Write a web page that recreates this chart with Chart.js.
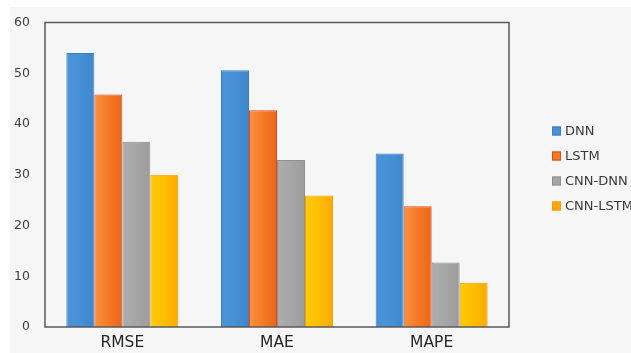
<!DOCTYPE html>
<html>
<head>
<meta charset="utf-8">
<script src="https://cdn.jsdelivr.net/npm/chart.js@4/dist/chart.umd.min.js"></script>
<style>
  html, body { margin: 0; padding: 0; background: #ffffff; overflow: hidden; }
  #wrap { width: 631px; height: 353px; }
</style>
</head>
<body>
<div id="wrap"><canvas id="c" width="631" height="353"></canvas></div>
<script>
// Error metrics per model
const categories = ['RMSE', 'MAE', 'MAPE'];
const seriesNames = ['DNN', 'LSTM', 'CNN-DNN', 'CNN-LSTM'];
const dnnValues = [54.0, 50.6, 34.2];
const lstmValues = [45.8, 42.7, 23.8];
const cnnDnnValues = [36.5, 32.9, 12.7];
const cnnLstmValues = [30.0, 25.9, 8.7];
const yTicks = [0, 10, 20, 30, 40, 50, 60];

// left -> right shading for each series, plus legend swatch and edge colours
const shades = [
  ['#4b93da', '#4590d6', '#3f87cc'],
  ['#fb913e', '#f47a26', '#e9661b'],
  ['#adadad', '#a6a6a6', '#9b9b9b'],
  ['#ffc905', '#ffbe02', '#ffa800']
];
const swatch = ['#4a8fd6', '#f47a24', '#a5a5a5', '#fca40c'];
const edges = ['#3d7fc4', '#e0481c', '#8f8f8f', '#f2a000'];

const FONT = "'DejaVu Sans', 'Open Sans', sans-serif";

const valueSets = [dnnValues, lstmValues, cnnDnnValues, cnnLstmValues];
const datasets = seriesNames.map((name, i) => ({
  label: name,
  data: valueSets[i],
  backgroundColor: swatch[i],
  borderColor: edges[i],
  borderWidth: 1,
  categoryPercentage: 0.724,
  barPercentage: 1.0
}));

// Panel background, shaded bars, frame and legend
const decor = {
  id: 'decor',
  beforeDraw(chart) {
    const ctx = chart.ctx;
    ctx.save();
    ctx.fillStyle = '#f6f6f6';
    ctx.fillRect(10, 7, chart.width - 10, chart.height - 7);
    ctx.restore();
  },
  beforeDatasetsDraw(chart) {
    const ctx = chart.ctx;
    chart.data.datasets.forEach((ds, di) => {
      const meta = chart.getDatasetMeta(di);
      meta.data.forEach(el => {
        const left = el.x - el.width / 2, right = el.x + el.width / 2;
        const g = ctx.createLinearGradient(left, 0, right, 0);
        g.addColorStop(0, shades[di][0]);
        g.addColorStop(0.5, shades[di][1]);
        g.addColorStop(1, shades[di][2]);
        el.options = Object.assign({}, el.options, { backgroundColor: g });
      });
    });
  },
  afterDraw(chart) {
    const ctx = chart.ctx;
    const a = chart.chartArea;
    ctx.save();
    ctx.strokeStyle = '#5a5a5a';
    ctx.lineWidth = 1.5;
    ctx.strokeRect(a.left, a.top, a.right - a.left, a.bottom - a.top);

    // legend
    ctx.font = '13px ' + FONT;
    ctx.textBaseline = 'middle';
    chart.data.datasets.forEach((ds, i) => {
      const cy = a.top + 108 + i * 25;
      const bx = a.right + 43;
      ctx.fillStyle = swatch[i];
      ctx.fillRect(bx, cy - 4, 9, 9);
      ctx.strokeStyle = edges[i];
      ctx.lineWidth = 1;
      ctx.strokeRect(bx + 0.5, cy - 3.5, 8, 8);
      ctx.fillStyle = '#3a3a3a';
      ctx.fillText(ds.label, bx + 13, cy + 1);
    });
    ctx.restore();
  }
};

new Chart(document.getElementById('c'), {
  type: 'bar',
  data: { labels: categories, datasets },
  plugins: [decor],
  options: {
    responsive: false,
    animation: false,
    layout: { padding: { top: 22, right: 122, bottom: 0, left: 0 } },
    plugins: {
      legend: { display: false },
      tooltip: { enabled: false }
    },
    scales: {
      x: {
        grid: { display: false, drawTicks: false },
        border: { display: false },
        ticks: { color: '#262626', font: { family: FONT, size: 15.5 }, padding: 7 },
        afterFit(s) { s.height = 26; }
      },
      y: {
        min: 0,
        max: 60,
        afterBuildTicks(s) { s.ticks = yTicks.map(v => ({ value: v })); },
        grid: { display: false, drawTicks: false },
        border: { display: false },
        ticks: { color: '#404040', font: { family: FONT, size: 12.5 }, padding: 15 },
        afterFit(s) { s.width = 45; }
      }
    }
  }
});
</script>
</body>
</html>
